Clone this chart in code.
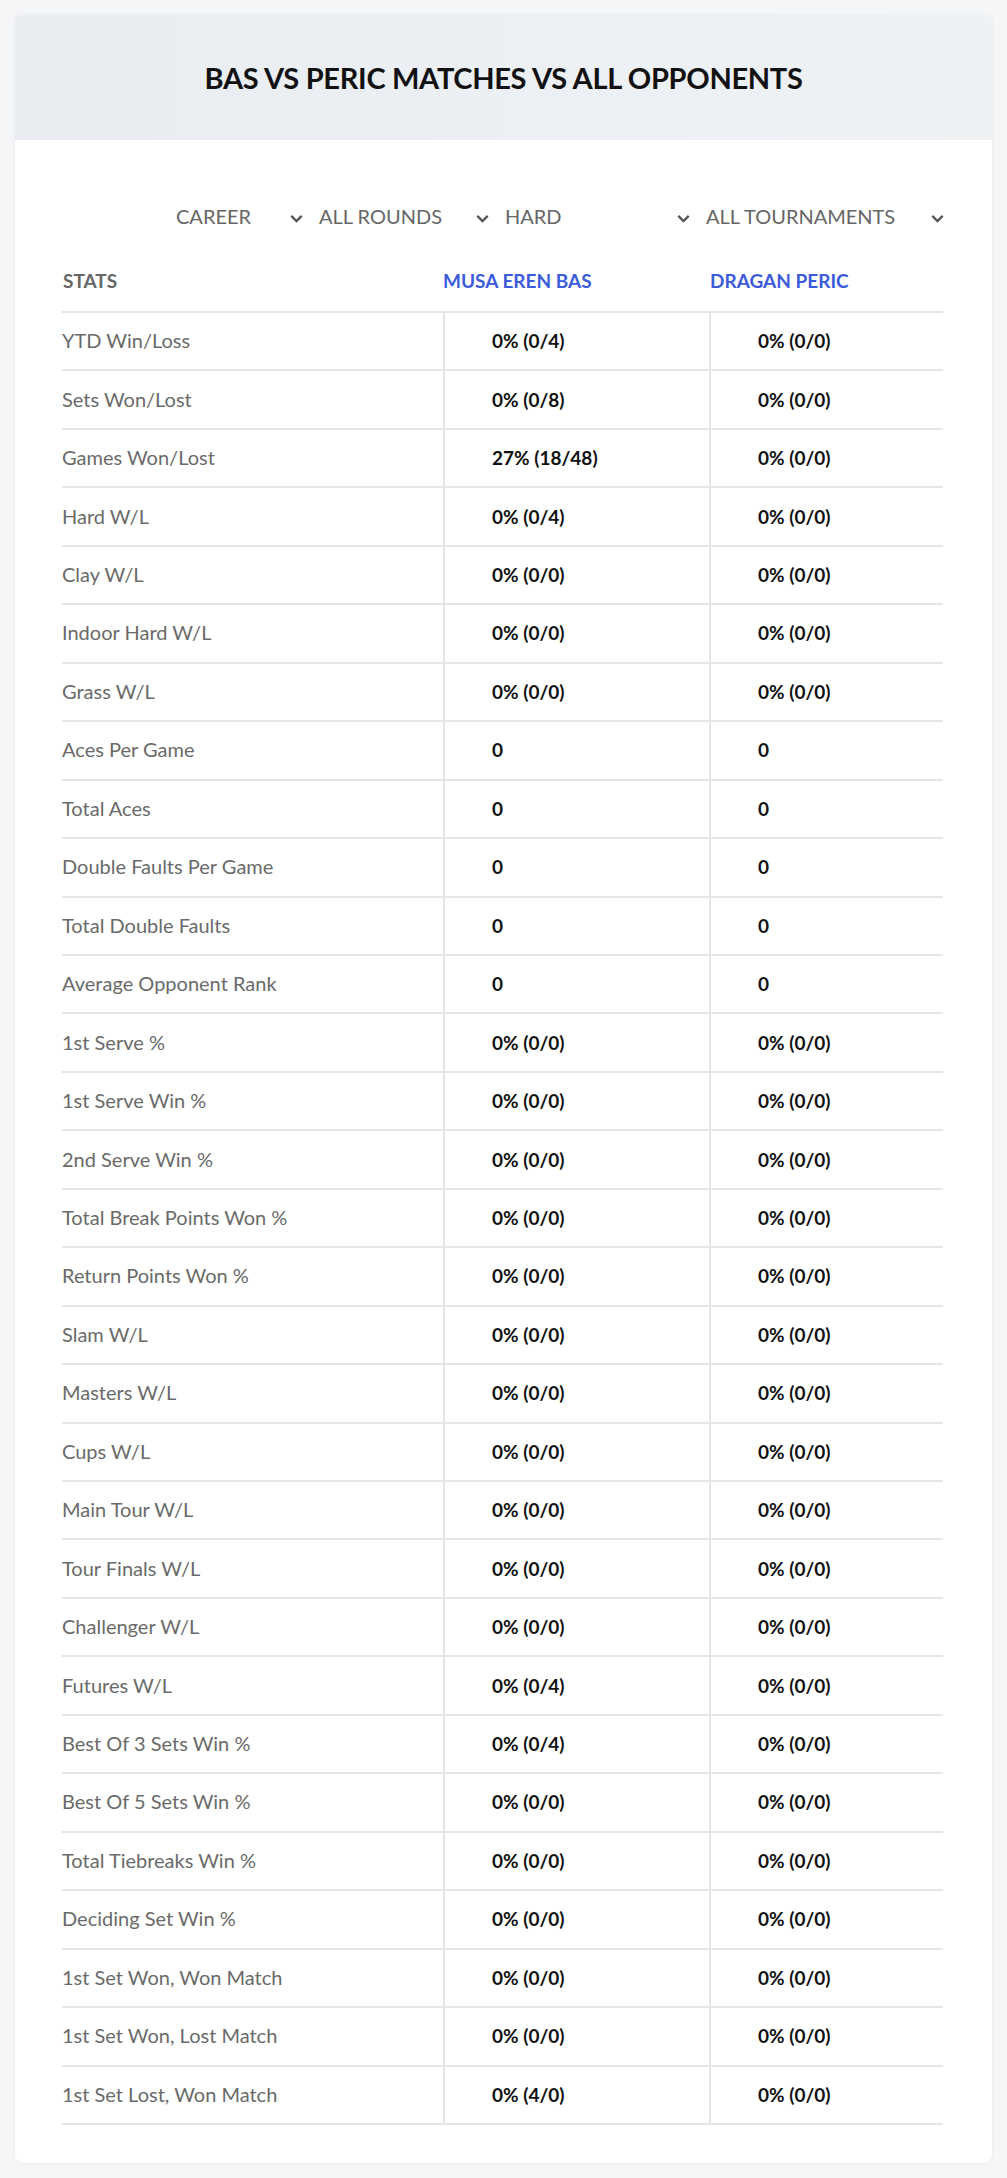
<!DOCTYPE html>
<html><head><meta charset="utf-8">
<script src="https://cdn.jsdelivr.net/npm/chart.js@4"></script>
<style>
html,body{margin:0;padding:0;background:#f5f6f8;width:1007px;height:2178px;font-family:Lato,"Noto Sans",sans-serif;}
#card{position:absolute;left:15px;top:15px;width:977px;height:2148px;background:#fff;border-radius:8px;box-shadow:0 0 4px rgba(0,0,0,0.06);overflow:hidden;}
#head{position:absolute;left:0;top:0;width:977px;height:125px;background:linear-gradient(90deg,#e9edf2,#eff2f5);}
#title{position:absolute;left:0;width:977px;top:62px;transform:translateY(-50%);text-align:center;font-size:29px;font-weight:700;color:#111;letter-spacing:-0.3px;}
.abs{position:absolute;white-space:nowrap;}
.filt{font-size:20px;color:#666;top:189px;}
.chev{top:189px;width:10px;height:10px;}
.hdr{top:254px;font-size:19px;font-weight:700;}
.lab{font-size:20px;color:#6a6a6a;}
.val{font-size:19px;font-weight:700;color:#111;}
.hl{position:absolute;left:47px;width:881px;height:2px;background:#e6e6e6;}
.vl{position:absolute;width:2px;background:#e6e6e6;}
</style></head><body>
<div id="card"><div id="head"><div id="title">BAS VS PERIC MATCHES VS ALL OPPONENTS</div></div><div id="tbl"></div></div>
<script>
const filters=["CAREER","ALL ROUNDS","HARD","ALL TOURNAMENTS"];
const players=["MUSA EREN BAS","DRAGAN PERIC"];
const stats=["YTD Win/Loss","Sets Won/Lost","Games Won/Lost","Hard W/L","Clay W/L","Indoor Hard W/L","Grass W/L","Aces Per Game","Total Aces","Double Faults Per Game","Total Double Faults","Average Opponent Rank","1st Serve %","1st Serve Win %","2nd Serve Win %","Total Break Points Won %","Return Points Won %","Slam W/L","Masters W/L","Cups W/L","Main Tour W/L","Tour Finals W/L","Challenger W/L","Futures W/L","Best Of 3 Sets Win %","Best Of 5 Sets Win %","Total Tiebreaks Win %","Deciding Set Win %","1st Set Won, Won Match","1st Set Won, Lost Match","1st Set Lost, Won Match"];
const basValues=["0% (0/4)","0% (0/8)","27% (18/48)","0% (0/4)","0% (0/0)","0% (0/0)","0% (0/0)","0","0","0","0","0","0% (0/0)","0% (0/0)","0% (0/0)","0% (0/0)","0% (0/0)","0% (0/0)","0% (0/0)","0% (0/0)","0% (0/0)","0% (0/0)","0% (0/0)","0% (0/4)","0% (0/4)","0% (0/0)","0% (0/0)","0% (0/0)","0% (0/0)","0% (0/0)","0% (4/0)"];
const pericValues=["0% (0/0)","0% (0/0)","0% (0/0)","0% (0/0)","0% (0/0)","0% (0/0)","0% (0/0)","0","0","0","0","0","0% (0/0)","0% (0/0)","0% (0/0)","0% (0/0)","0% (0/0)","0% (0/0)","0% (0/0)","0% (0/0)","0% (0/0)","0% (0/0)","0% (0/0)","0% (0/0)","0% (0/0)","0% (0/0)","0% (0/0)","0% (0/0)","0% (0/0)","0% (0/0)","0% (0/0)"];

const T=document.getElementById('tbl');
function add(cls,txt,left,top,extra){const d=document.createElement('div');d.className='abs '+cls;d.textContent=txt;d.style.left=left+'px';if(top!=null)d.style.top=top+'px';if(extra)Object.assign(d.style,extra);T.appendChild(d);return d;}
const fx=[161,304,490,691], cx=[275,461,662,916];
filters.forEach((f,i)=>{add('filt',f,fx[i]);
 const c=document.createElementNS('http://www.w3.org/2000/svg','svg');c.setAttribute('class','abs chev');c.setAttribute('viewBox','0 0 10 10');c.style.left=cx[i]+'px';c.style.top='197px';c.style.width='13px';c.style.height='13px';c.innerHTML='<polyline points="1,3 5,7 9,3" fill="none" stroke="#555" stroke-width="1.8"/>';T.appendChild(c);});
add('hdr','STATS',48,null,{color:'#666'});
add('hdr',players[0],428,null,{color:'#3b5bdb'});
add('hdr',players[1],695,null,{color:'#3b5bdb'});
const top0=296,rh=58.45;
for(let i=0;i<=stats.length;i++){const l=document.createElement('div');l.className='hl';l.style.top=(top0+i*rh)+'px';T.appendChild(l);}
[428,694].forEach(x=>{const v=document.createElement('div');v.className='vl';v.style.left=x+'px';v.style.top=top0+'px';v.style.height=(stats.length*rh)+'px';T.appendChild(v);});
stats.forEach((s,i)=>{const y=top0+i*rh+rh/2-12;
 add('lab',s,47,y);add('val',basValues[i],477,y+1);add('val',pericValues[i],743,y+1);});
</script></body></html>
